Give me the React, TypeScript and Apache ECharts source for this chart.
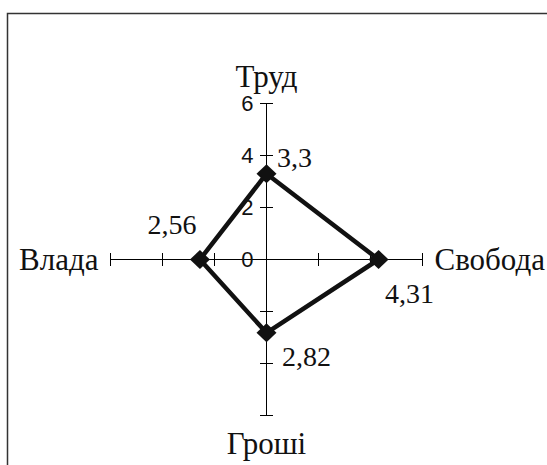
import React, { useEffect, useRef } from "react";
import * as echarts from "echarts";

const categories = ["Труд", "Влада", "Гроші", "Свобода"];
const values = [3.3, 2.56, 2.82, 4.31];
const axisMax = 6;
const tickStep = 2;
// label offsets relative to each vertex (dx, dy)
const labelOffsets = [
  [28, -16],
  [-28, -35],
  [40, 24],
  [31, 34],
];

const fmt = (v: number) => String(v).replace(".", ",");
const SERIF = "'Liberation Serif', 'Times New Roman', serif";
const SANS = "'Liberation Sans', Arial, sans-serif";

export default function App() {
  const ref = useRef<HTMLDivElement>(null);
  useEffect(() => {
    if (!ref.current) return;
    const chart = echarts.init(ref.current, null, { renderer: "svg" });
    const cx = 266.5;
    const cy = 259.5;
    const R = 156;
    const indicator = categories.map((n) => ({ name: n, max: axisMax, min: 0 }));
    const tickLine = { color: "#000", width: 1 };
    const mkAxis = (gridIndex: number, position: string) => ({
      type: "value",
      gridIndex,
      position,
      min: -axisMax,
      max: axisMax,
      interval: tickStep,
      splitLine: { show: false },
      axisLine: { show: true, onZero: true, lineStyle: tickLine },
      axisTick: { show: true, inside: false, length: 6.5, lineStyle: tickLine },
      axisLabel: { show: false },
    });
    const labelSeries = values.map((target, i) => ({
      type: "radar",
      radarIndex: 0,
      z: 5,
      symbol: "circle",
      symbolSize: 1,
      itemStyle: { color: "rgba(0,0,0,0)" },
      lineStyle: { width: 0, opacity: 0 },
      silent: true,
      data: [
        {
          value: values,
          label: {
            show: true,
            position: "inside",
            offset: labelOffsets[i],
            align: "center",
            verticalAlign: "middle",
            fontFamily: SERIF,
            fontSize: 28,
            color: "#111",
            formatter: (p: any) => {
              let v = p.value;
              if (Array.isArray(v)) v = v[p.dimensionIndex];
              return v === target ? fmt(target) : "";
            },
          },
        },
      ],
    }));
    const gridBox = { left: cx - R, top: cy - R, width: 2 * R, height: 2 * R };
    chart.setOption({
      animation: false,
      backgroundColor: "#fff",
      graphic: [
        {
          type: "rect",
          shape: { x: 7.5, y: 13.5, width: 700, height: 700 },
          style: { fill: "none", stroke: "#333", lineWidth: 1.5 },
          z: -1,
        },
      ],
      radar: {
        center: [cx, cy],
        radius: R,
        startAngle: 90,
        splitNumber: axisMax / tickStep,
        indicator,
        splitLine: { show: false },
        splitArea: { show: false },
        axisLabel: { show: false },
        axisLine: { show: false },
        axisTick: { show: false },
        axisName: { fontFamily: SERIF, fontSize: 31, color: "#111" },
        nameGap: 12,
      },
      grid: [gridBox, gridBox, { left: cx, top: cy - R, width: 1, height: R }],
      xAxis: [
        mkAxis(0, "bottom"),
        mkAxis(1, "top"),
        { type: "value", gridIndex: 2, show: false },
      ],
      yAxis: [
        mkAxis(0, "left"),
        mkAxis(1, "right"),
        {
          type: "value",
          gridIndex: 2,
          min: 0,
          max: axisMax,
          interval: tickStep,
          axisLine: { show: false },
          axisTick: { show: false },
          splitLine: { show: false },
          axisLabel: {
            margin: 13,
            fontFamily: SANS,
            fontSize: 22,
            color: "#111",
          },
        },
      ],
      series: [
        {
          type: "radar",
          radarIndex: 0,
          z: 3,
          symbol: "diamond",
          symbolSize: [20, 19],
          itemStyle: { color: "#111" },
          lineStyle: { color: "#111", width: 4.5 },
          data: [{ value: values }],
        },
        ...labelSeries,
        { type: "scatter", xAxisIndex: 0, yAxisIndex: 0, data: [] },
        { type: "scatter", xAxisIndex: 1, yAxisIndex: 1, data: [] },
        { type: "scatter", xAxisIndex: 2, yAxisIndex: 2, data: [] },
      ],
    });
    return () => chart.dispose();
  }, []);
  return (
    <div
      ref={ref}
      style={{ position: "absolute", left: 0, top: 0, width: 547, height: 465 }}
    />
  );
}
